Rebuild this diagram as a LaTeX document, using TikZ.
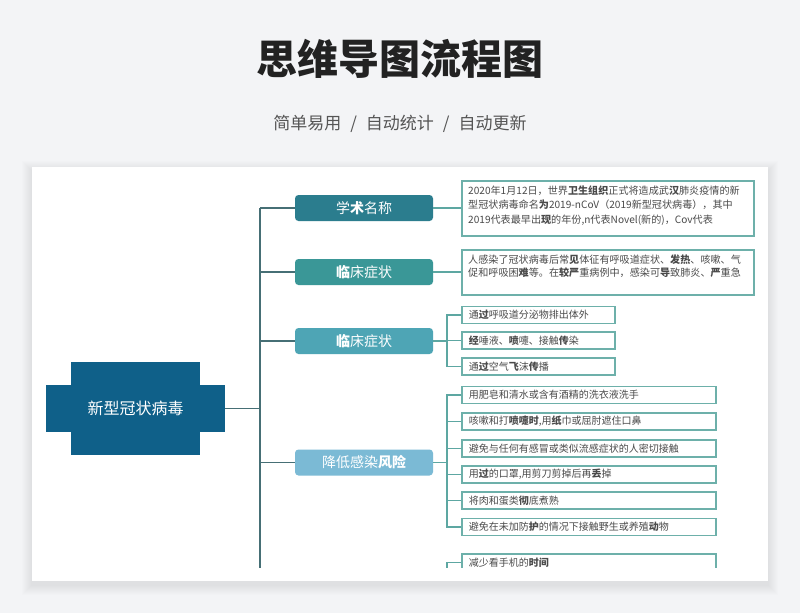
\documentclass[tikz,border=0pt]{standalone}
\usepackage{fontspec}
\setmainfont{Noto Sans CJK SC}
\newcommand\myb[1]{{\bfseries #1}}
\definecolor{bgc}{HTML}{F3F4F6}
\definecolor{rootc}{HTML}{0F6089}
\definecolor{bra}{HTML}{2B7D8E}
\definecolor{brb}{HTML}{3A9797}
\definecolor{brc}{HTML}{4EA5B5}
\definecolor{brd}{HTML}{7BBAD5}
\definecolor{trunkc}{HTML}{466F75}
\definecolor{leafline}{HTML}{5DA7A2}
\definecolor{leafborder}{HTML}{6DB0AA}
\definecolor{txt}{HTML}{4A4A4A}
\definecolor{titlec}{HTML}{222222}
\definecolor{subc}{HTML}{555555}
\tikzset{
  branchbox/.style={rounded corners=3.5pt, minimum width=138pt, minimum height=26pt, inner sep=0pt,
    text=white, font=\fontsize{14}{14}\selectfont},
  leafbox/.style={draw=leafborder, line width=1.6pt, anchor=west, minimum height=17pt, inner ysep=0pt,
    inner xsep=7pt, align=left, text=txt, font=\fontsize{10}{10}\selectfont},
  textbox/.style={draw=leafborder, line width=1.6pt, anchor=north west, inner sep=0pt},
  tline/.style={anchor=base west, inner sep=0pt, text=txt, font=\fontsize{10.1}{10.1}\selectfont},
  trunkline/.style={draw=trunkc, line width=1.7pt},
  leafconn/.style={draw=leafline, line width=1.6pt},
}
\begin{document}
\begin{tikzpicture}[x=1pt,y=-1pt]
\useasboundingbox (0,0) rectangle (800,613);
\fill[bgc] (0,0) rectangle (800,613);
% card shadow
\foreach \i in {1,...,10} {
  \fill[black,opacity=0.007] ({32-\i},{167-\i+4}) rectangle ({768+\i},{581+\i+4});
}
\fill[white] (32,167) rectangle (768,581);
% title
\node[text=titlec, inner sep=0pt] (title) at (400,59) {\fontsize{41}{41}\selectfont\bfseries 思维导图流程图};
\node[text=subc, inner sep=0pt] (subtitle) at (400,124) {\fontsize{17}{17}\selectfont 简单易用\hspace{9pt}/\hspace{9pt}自动统计\hspace{9pt}/\hspace{9pt}自动更新};
\begin{scope}
\clip (32,167) rectangle (768,567);
% root
\fill[rootc] (71,362) rectangle (200,455);
\node[fill=rootc, minimum width=179pt, minimum height=47pt, inner sep=0pt, text=white,
  font=\fontsize{16}{16}\selectfont] (root) at (135.5,408.5) {新型冠状病毒};
% trunk
\coordinate (trunktop) at (260,208);
\coordinate (trunkbot) at (260,580);
\coordinate (trunkmid) at (260,408.5);
\draw[trunkline] (trunktop) -- (trunkbot);
\draw[trunkline] (root.east) -- (trunkmid);
% branches
\node[branchbox, fill=bra] (b1) at (364,208) {学\myb{术}名称};
\node[branchbox, fill=brb] (b2) at (364,272) {\myb{临}床症状};
\node[branchbox, fill=brc] (b3) at (364,341) {\myb{临}床症状};
\node[branchbox, fill=brd] (b4) at (364,462.5) {降低感染\myb{风险}};
\foreach \b in {b1,b2,b3,b4} {\draw[trunkline] (\b.west) -- (\b.west -| trunktop);}
% text boxes
\node[textbox, minimum width=292pt, minimum height=55pt] (t1) at (461,180) {};
\node[textbox, minimum width=292pt, minimum height=45pt] (t2) at (461,249) {};
\draw[leafconn] (b1.east) -- (b1.east -| t1.west);
\draw[leafconn] (b2.east) -- (b2.east -| t2.west);
\node[tline] (t1a) at (468,194) {2020年1月12日，世界\myb{卫生组织}正式将造成武\myb{汉}肺炎疫情的新};
\node[tline] (t1b) at (468,208.5) {型冠状病毒命名\myb{为}2019-nCoV（2019新型冠状病毒），其中};
\node[tline] (t1c) at (468,223) {2019代表最早出\myb{现}的年份,n代表Novel(新的)，Cov代表};
\node[tline] (t2a) at (468,263) {人感染了冠状病毒后常\myb{见}体征有呼吸道症状、\myb{发热}、咳嗽、气};
\node[tline] (t2b) at (468,276.5) {促和呼吸困\myb{难}等。在\myb{较严}重病例中，感染可\myb{导}致肺炎、\myb{严}重急};
% branch 3 leaves
\coordinate (s3) at (447,341);
\node[leafbox, minimum width=153pt, text width=139pt] (l1) at (461,315) {通\myb{过}呼吸道分泌物排出体外};
\node[leafbox, minimum width=153pt, text width=139pt] (l2) at (461,340.5) {\myb{经}唾液、\myb{喷}嚏、接触\myb{传}染};
\node[leafbox, minimum width=153pt, text width=139pt] (l3) at (461,366.5) {通\myb{过}空气\myb{飞}沫\myb{传}播};
\draw[leafconn] (b3.east) -- (s3);
\draw[leafconn] (l1.west) -- (l1.west -| s3) -- (l3.west -| s3) -- (l3.west);
\draw[leafconn] (l2.west) -- (l2.west -| s3);
% branch 4 leaves
\coordinate (s4) at (447,462.5);
\node[leafbox, minimum width=254pt, text width=240pt] (m1) at (461,395) {用肥皂和清水或含有酒精的洗衣液洗手};
\node[leafbox, minimum width=254pt, text width=240pt] (m2) at (461,421.5) {咳嗽和打\myb{喷嚏时},用\myb{纸}巾或屈肘遮住口鼻};
\node[leafbox, minimum width=254pt, text width=240pt] (m3) at (461,448.5) {避免与任何有感冒或类似流感症状的人密切接触};
\node[leafbox, minimum width=254pt, text width=240pt] (m4) at (461,474.5) {用\myb{过}的口罩,用剪刀剪掉后再\myb{丢}掉};
\node[leafbox, minimum width=254pt, text width=240pt] (m5) at (461,500.5) {将肉和蛋类\myb{彻}底煮熟};
\node[leafbox, minimum width=254pt, text width=240pt] (m6) at (461,527) {避免在未加防\myb{护}的情况下接触野生或养殖\myb{动}物};
\draw[leafconn] (b4.east) -- (s4);
\draw[leafconn] (m1.west) -- (m1.west -| s4) -- (m6.west -| s4) -- (m6.west);
\foreach \m in {m2,m3,m4,m5} {\draw[leafconn] (\m.west) -- (\m.west -| s4);}
% next branch (cut off)
\node[leafbox, minimum width=254pt, text width=240pt] (m7) at (461,562.5) {减少看手机的\myb{时间}};
\coordinate (s5) at (447,600);
\draw[leafconn] (m7.west) -| (s5);
\end{scope}
\end{tikzpicture}
\end{document}
